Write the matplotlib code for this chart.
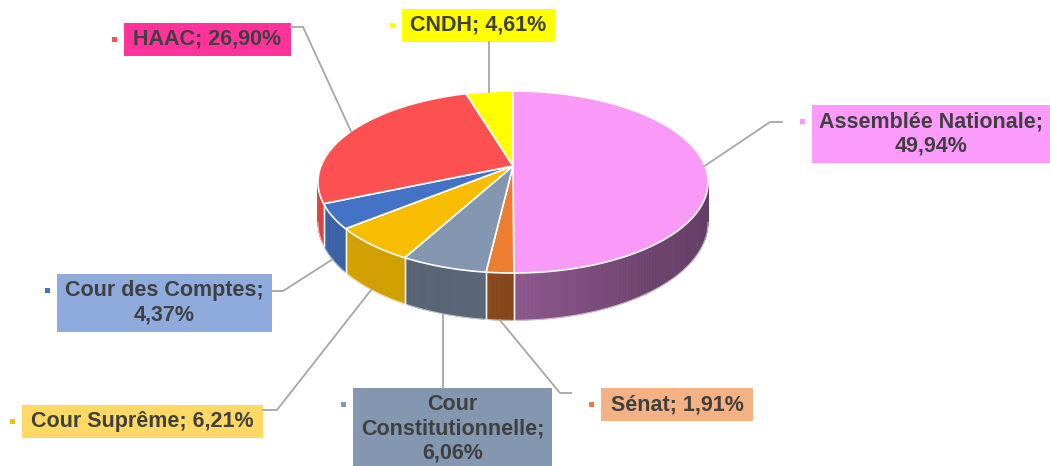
import numpy as np
import matplotlib
matplotlib.use('Agg')
import matplotlib.pyplot as plt
from matplotlib.patches import Polygon, Rectangle
from matplotlib.colors import to_rgb

# data, clockwise from 12 o'clock
names = ['Assemblée Nationale', 'Sénat', 'Cour Constitutionnelle', 'Cour Suprême',
         'Cour des Comptes', 'HAAC', 'CNDH']
shares = [49.94, 1.91, 6.06, 6.21, 4.37, 26.90, 4.61]
slice_colors = ['#f99af9', '#ed7d31', '#8497b0', '#f8bd00', '#4472c4', '#fd5151', '#ffff00']
box_colors = ['#fb9bfb', '#f4b183', '#8497b0', '#ffd966', '#8faadc', '#ff3399', '#ffff00']
label_fmt = ['{n};\n{p}', '{n}; {p}', 'Cour\nConstitutionnelle;\n{p}', '{n}; {p}',
             '{n};\n{p}', '{n}; {p}', '{n}; {p}']

# label boxes (pixel layout): x0, y0, x1, y1, leader attach, leader elbow
layout = [
    ((812, 105, 1050, 163), (782, 122), (770, 122)),
    ((601, 388, 753, 421), (571, 393), (560, 393)),
    ((353, 388, 552, 472), None, None),
    ((22, 405, 263, 438), (263, 410), (277, 410)),
    ((57, 274, 272, 332), (272, 291), (283, 291)),
    ((124, 23, 291, 56), (291, 27), (303, 27)),
    ((402, 9, 555, 42), None, None),
]

W, Hpx = 1050, 466
CX, CY = 513, 166          # apex of the pie top
R, RY, K = 192, 88.2, 0.176  # radii and perspective factor
DEPTH = 39
TEXT = '#404040'
LINE = '#a6a6a6'


def proj(theta, drop=0.0):
    t = np.radians(theta)
    s = 1.0 / (1.0 + K * np.cos(t))
    x = CX + R * np.sin(t) * s
    y = CY - RY * np.cos(t) * s + DEPTH * drop * s
    return x, y


def shade(color, f):
    return tuple(min(1, c * f) for c in to_rgb(color))


# side darkness along the front rim
shade_knots = [100, 140, 178, 186, 187, 208, 209, 260]
shade_vals = [0.40, 0.43, 0.56, 0.58, 0.68, 0.66, 0.84, 0.86]

fig = plt.figure(figsize=(W / 100, Hpx / 100), dpi=100)
ax = fig.add_axes([0, 0, 1, 1])
ax.set_xlim(0, W)
ax.set_ylim(Hpx, 0)
ax.axis('off')

edges = np.concatenate([[0], np.cumsum(shares)]) / sum(shares) * 360
vis_lo = np.degrees(np.arccos(-K))
vis_hi = 360 - vis_lo

# side walls
for i, col in enumerate(slice_colors):
    a, b = max(edges[i], vis_lo), min(edges[i + 1], vis_hi)
    if a >= b:
        continue
    n = max(2, int((b - a) / 1.0))
    th = np.linspace(a, b, n + 1)
    for t0, t1 in zip(th[:-1], th[1:]):
        x0, y0 = proj(t0)
        x1, y1 = proj(t1)
        x2, y2 = proj(t1, 1)
        x3, y3 = proj(t0, 1)
        c = shade(col, np.interp((t0 + t1) / 2, shade_knots, shade_vals))
        ax.add_patch(Polygon([(x0, y0), (x1, y1), (x2, y2), (x3, y3)],
                             closed=True, facecolor=c, edgecolor=c, lw=0.6))
    for t in (edges[i], edges[i + 1]):
        if vis_lo < t < vis_hi:
            xa, ya = proj(t)
            xb, yb = proj(t, 1)
            ax.plot([xa, xb], [ya, yb], color='white', lw=1.0, alpha=0.8)

th_b = np.linspace(vis_lo, vis_hi, 200)
xb, yb = proj(th_b, 1)
ax.plot(xb, yb, color='white', lw=0.8, alpha=0.6)

# top faces
for i, col in enumerate(slice_colors):
    th = np.linspace(edges[i], edges[i + 1], max(3, int(edges[i + 1] - edges[i]) + 2))
    xs, ys = proj(th)
    pts = [(CX, CY)] + list(zip(xs, ys))
    ax.add_patch(Polygon(pts, closed=True, facecolor=col, edgecolor='white',
                         lw=1.2, joinstyle='round'))

# labels and leader lines
for i, name in enumerate(names):
    (bx0, by0, bx1, by1), attach, elbow = layout[i]
    mid = (edges[i] + edges[i + 1]) / 2
    drop = 1.0 if np.cos(np.radians(mid)) < -0.1 else 0.0
    axx, axy = proj(mid, drop)
    if attach is None:
        # straight vertical leader to the box edge facing the pie
        ly = by0 if by0 > CY else by1
        ax.plot([axx, axx], [ly, axy], color=LINE, lw=1.3)
    else:
        ax.plot([attach[0], elbow[0], axx], [attach[1], elbow[1], axy], color=LINE, lw=1.3)

    ax.add_patch(Rectangle((bx0, by0), bx1 - bx0, by1 - by0, facecolor=box_colors[i],
                           edgecolor='none'))
    ax.add_patch(Rectangle((bx0 - 12.5, by0 + 14), 5, 5, facecolor=slice_colors[i],
                           edgecolor='none'))
    pct = f'{shares[i]:.2f}'.replace('.', ',') + '%'
    txt = label_fmt[i].format(n=name, p=pct)
    ty = (by0 + min(by1, Hpx + 4)) / 2
    ax.text((bx0 + bx1) / 2, ty, txt, ha='center', va='center', multialignment='center',
            fontsize=15.5, fontweight='bold', color=TEXT, linespacing=1.2,
            family=['Liberation Sans', 'DejaVu Sans'])

fig.savefig('out.png', dpi=100)
